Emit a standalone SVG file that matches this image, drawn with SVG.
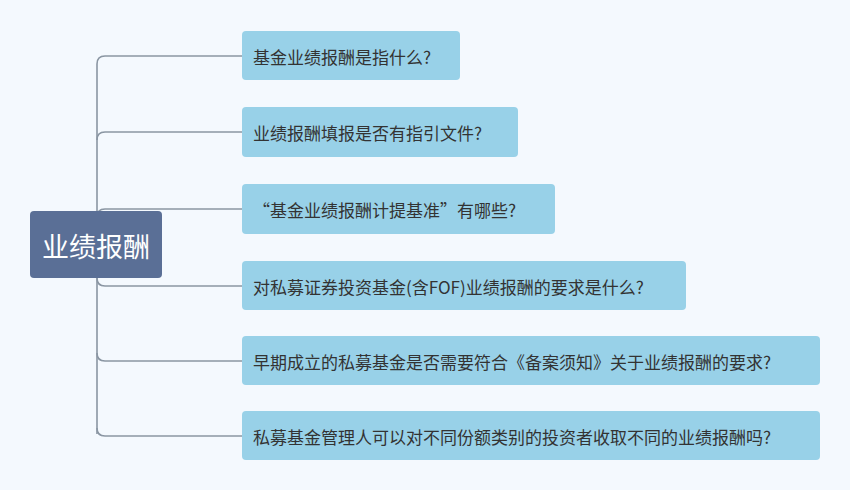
<svg xmlns="http://www.w3.org/2000/svg" width="850" height="490" viewBox="0 0 850 490">
<style>
.n{fill:#98d1e8}
.t{font-family:"Noto Sans CJK SC","Liberation Sans",sans-serif;font-size:17px;fill:#333;dominant-baseline:central}
.c{fill:none;stroke:#8a96a3;stroke-width:1.6}
</style>
<rect width="850" height="490" fill="#f4f9fe"/>
<g id="connectors" class="c">
<path d="M97 434V64Q97 56 105 56H242"/>
<path d="M97 140Q97 132 105 132H242"/>
<path d="M97 217Q97 209 105 209H242"/>
<path d="M97 278Q97 286 105 286H242"/>
<path d="M97 353Q97 361 105 361H242"/>
<path d="M97 428Q97 436 105 436H242"/>
</g>
<g id="root"><rect x="30" y="211" width="132" height="67" rx="4" fill="#5a6f96"/><text x="96" y="245" font-family="Noto Sans CJK SC,sans-serif" font-size="27" fill="#fff" text-anchor="middle" dominant-baseline="central">业绩报酬</text></g>
<g id="n1"><rect class="n" x="242" y="31" width="218" height="49" rx="4"/><text class="t" x="253" y="56">基金业绩报酬是指什么?</text></g>
<g id="n2"><rect class="n" x="242" y="107" width="276" height="50" rx="4"/><text class="t" x="253" y="132">业绩报酬填报是否有指引文件?</text></g>
<g id="n3"><rect class="n" x="242" y="184" width="313" height="50" rx="4"/><text class="t" x="253" y="209">“基金业绩报酬计提基准”有哪些?</text></g>
<g id="n4"><rect class="n" x="242" y="261" width="444" height="49" rx="4"/><text class="t" x="253" y="286">对私募证券投资基金(含FOF)业绩报酬的要求是什么?</text></g>
<g id="n5"><rect class="n" x="242" y="336" width="578" height="49" rx="4"/><text class="t" x="253" y="361">早期成立的私募基金是否需要符合《备案须知》关于业绩报酬的要求?</text></g>
<g id="n6"><rect class="n" x="242" y="411" width="578" height="49" rx="4"/><text class="t" x="253" y="436">私募基金管理人可以对不同份额类别的投资者收取不同的业绩报酬吗?</text></g>
</svg>
